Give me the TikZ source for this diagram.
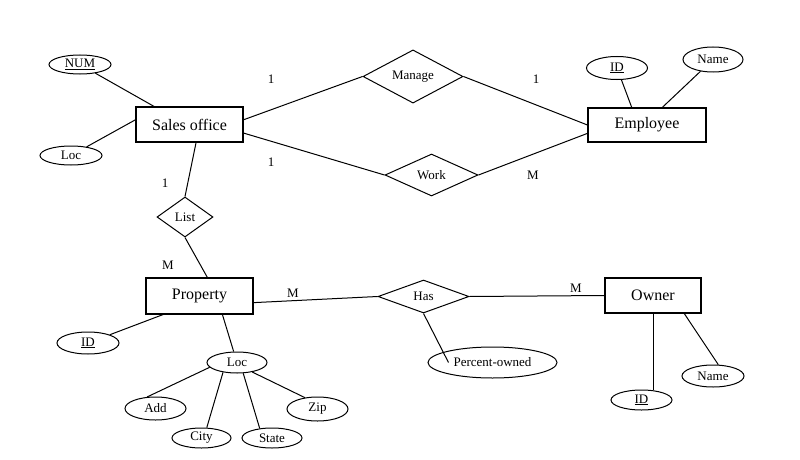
\documentclass[tikz,border=0pt]{standalone}
\usepackage{fontspec}
\setmainfont{Liberation Serif}
\usepackage{tikz}
\usetikzlibrary{shapes.geometric}
\newcommand{\bigsize}{\fontsize{16}{19}\selectfont}
\newcommand{\smallsize}{\fontsize{13}{15}\selectfont}
\tikzstyle{entity} = [rectangle, draw, line width=1.1pt, minimum height=35pt, inner sep=0pt, font=\bigsize]
\tikzstyle{relation} = [diamond, draw, line width=1pt, inner sep=0pt, font=\smallsize]
\tikzstyle{attr} = [ellipse, draw, line width=1pt, inner sep=0pt, minimum width=61pt, minimum height=21pt, font=\smallsize]
\tikzstyle{card} = [font=\smallsize, inner sep=0pt]
\tikzstyle{link} = [line width=1pt]

\begin{document}
\begin{tikzpicture}[x=1pt, y=-1pt]
\useasboundingbox (0,0) rectangle (800,460);

% Entities
\node[entity, minimum width=107pt] (sales) at (189.5,124.5) {Sales office};
\node[entity, minimum width=118pt, minimum height=34pt] (employee) at (647,125) {Employee};
\node[entity, minimum width=107pt, minimum height=36pt] (property) at (199.5,296) {Property};
\node[entity, minimum width=96pt] (owner) at (653,295.5) {Owner};

% Relationships
\node[relation, minimum width=100pt, minimum height=47pt] (manage) at (413,76.5) {Manage};
\node[relation, minimum width=93pt, minimum height=42pt] (work) at (431.5,175) {Work};
\node[relation, minimum width=56pt, minimum height=40pt] (list) at (185,217) {List};
\node[relation, minimum width=91pt, minimum height=33pt] (has) at (423.5,296.5) {Has};

% Attributes
\node[attr, minimum width=62pt, minimum height=19pt] (num) at (80,64.5) {\underline{NUM}};
\node[attr, minimum width=62pt, minimum height=19pt] (sloc) at (71,155.5) {Loc};
\node[attr, minimum height=23pt] (eid) at (617,68) {\underline{ID}};
\node[attr, minimum width=60pt, minimum height=25pt] (ename) at (713,59.5) {Name};
\node[attr, minimum width=62pt, minimum height=22pt] (pid) at (88,343) {\underline{ID}};
\node[attr, minimum width=60pt] (ploc) at (237,362.5) {Loc};
\node[attr, minimum height=23pt] (add) at (155.5,408.5) {Add};
\node[attr, minimum width=59pt, minimum height=20pt] (city) at (201.5,438) {City};
\node[attr, minimum width=60pt, minimum height=20pt] (state) at (272,438) {State};
\node[attr, minimum height=24pt] (zip) at (317.5,409) {Zip};
\node[attr, minimum width=129pt, minimum height=31pt] (pct) at (492.5,362.5) {Percent-owned};
\node[attr, minimum height=20pt] (oid) at (641.5,400) {\underline{ID}};
\node[attr, minimum width=62pt, minimum height=22pt] (oname) at (713,376) {Name};
\coordinate (pctend) at ([xshift=-44pt]pct.center);

% Cardinalities
\node[card] (c1) at (271,79) {1};
\node[card] (c2) at (536,79) {1};
\node[card] (c3) at (271,162) {1};
\node[card] (c4) at (533,175) {M};
\node[card] (c5) at (165,183) {1};
\node[card] (c6) at (168,265) {M};
\node[card] (c7) at (293,293) {M};
\node[card] (c8) at (576,288) {M};

% Connectors
\draw[link] (num) -- (sales.153);
\draw[link] (sloc) -- (sales.175);
\draw[link] (sales.5) -- (manage.west);
\draw[link] (manage.east) -- (employee.west);
\draw[link] (sales.-9) -- (work.west);
\draw[link] (work.east) -- (employee.188);
\draw[link] (eid) -- (employee.131);
\draw[link] (ename) -- (employee.49);
\draw[link] (sales.-70) -- (list.north);
\draw[link] (list.south) -- (property.67);
\draw[link] (pid) -- (property.207);
\draw[link] (property.-39) -- (ploc);
\draw[link] (ploc.190) -- (add.126);
\draw[link] (ploc.215) -- (city.63);
\draw[link] (ploc.-60) -- (state.142);
\draw[link] (ploc.-32) -- (zip.138);
\draw[link] (property.-7) -- (has.west);
\draw[link] (has.east) -- (owner.west);
\draw[link] (has.south) -- (pctend);
\draw[link] (owner.south) -- (owner.south |- oid.north);
\draw[link] (owner.-30) -- (oname.65);
\end{tikzpicture}
\end{document}
